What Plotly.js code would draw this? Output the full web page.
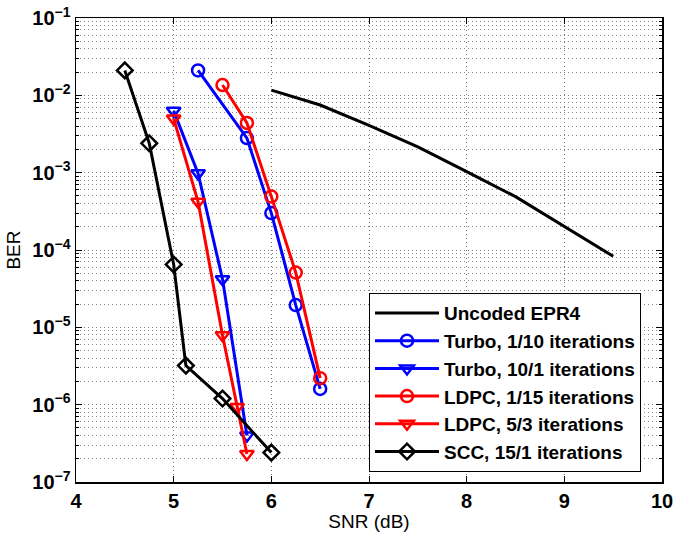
<!DOCTYPE html>
<html>
<head>
<meta charset="utf-8">
<script src="https://cdn.plot.ly/plotly-3.0.1.min.js"></script>
<style>html,body{margin:0;padding:0;background:#fff;}#chart{width:675px;height:537px;}</style>
</head>
<body>
<div id="chart"></div>
<script>
// Data
const uncodedX = [6, 6.5, 7, 7.5, 8, 8.5, 9.5];
const uncodedY = [1.17e-2, 7.5e-3, 4.1e-3, 2.16e-3, 1.03e-3, 4.9e-4, 8.3e-5];

const turbo110X = [5.25, 5.75, 6.0, 6.25, 6.5];
const turbo110Y = [2.1e-2, 2.8e-3, 3.0e-4, 1.94e-5, 1.6e-6];

const turbo101X = [5.0, 5.25, 5.5, 5.75];
const turbo101Y = [6.3e-3, 9.8e-4, 4.2e-5, 4.0e-7];

const ldpc115X = [5.5, 5.75, 6.0, 6.25, 6.5];
const ldpc115Y = [1.36e-2, 4.4e-3, 4.9e-4, 5.1e-5, 2.2e-6];

const ldpc53X = [5.0, 5.25, 5.5, 5.65, 5.75];
const ldpc53Y = [5.0e-3, 4.2e-4, 7.9e-6, 9.3e-7, 2.3e-7];

const sccX = [4.5, 4.75, 5.0, 5.125, 5.5, 6.0];
const sccY = [2.1e-2, 2.4e-3, 6.5e-5, 3.2e-6, 1.2e-6, 2.4e-7];

const seriesNames = [
  "Uncoded EPR4",
  "Turbo, 1/10 iterations",
  "Turbo, 10/1 iterations",
  "LDPC, 1/15 iterations",
  "LDPC, 5/3 iterations",
  "SCC, 15/1 iterations"
];

const xTickVals = [4, 5, 6, 7, 8, 9, 10];
const xTickText = ["4", "5", "6", "7", "8", "9", "10"];
const yTickVals = [1e-7, 1e-6, 1e-5, 1e-4, 1e-3, 1e-2, 1e-1];
const yTickText = ["10<sup>−7</sup>", "10<sup>−6</sup>", "10<sup>−5</sup>", "10<sup>−4</sup>",
                   "10<sup>−3</sup>", "10<sup>−2</sup>", "10<sup>−1</sup>"];

const LW = 3;
function tr(x, y, name, color, symbol, grp) {
  const t = {
    x: x, y: y, name: name, type: 'scatter',
    mode: symbol ? 'lines+markers' : 'lines',
    legendgroup: grp,
    line: {color: color, width: LW},
    cliponaxis: false
  };
  if (symbol) {
    t.marker = {symbol: symbol, size: 12, color: color,
                line: {color: color, width: 2.5}};
  }
  return t;
}

const data = [
  tr(uncodedX, uncodedY, seriesNames[0], '#000000', null, 'g0'),
  tr(turbo110X, turbo110Y, seriesNames[1], '#0000ff', 'circle-open', 'g1'),
  tr(turbo101X, turbo101Y, seriesNames[2], '#0000ff', 'triangle-down-open', 'g2'),
  tr(ldpc115X, ldpc115Y, seriesNames[3], '#ff0000', 'circle-open', 'g3'),
  tr(ldpc53X, ldpc53Y, seriesNames[4], '#ff0000', 'triangle-down-open', 'g4'),
  tr(sccX, sccY, seriesNames[5], '#000000', 'diamond-open', 'g5')
];

const gridDash = '1px,3px';
const layout = {
  width: 675, height: 537,
  margin: {l: 76, r: 13, t: 18, b: 55},
  paper_bgcolor: '#ffffff', plot_bgcolor: '#ffffff',
  font: {family: 'Liberation Sans, Arial, sans-serif', color: '#000'},
  showlegend: true,
  legend: {
    x: 0.5, y: 0.407, xanchor: 'left', yanchor: 'top',
    bgcolor: '#ffffff', bordercolor: '#000', borderwidth: 1,
    font: {size: 19, weight: 'bold', color: '#000'},
    itemwidth: 64, tracegroupgap: 0
  },
  xaxis: {
    range: [4, 10], tickvals: xTickVals, ticktext: xTickText,
    ticks: 'inside', ticklen: 6, tickcolor: '#000',
    showline: true, linecolor: '#000', linewidth: 1.5, mirror: 'ticks',
    showgrid: true, gridcolor: '#777', griddash: gridDash, gridwidth: 1,
    zeroline: false,
    tickfont: {size: 20, weight: 'bold'},
    title: {text: 'SNR (dB)', font: {size: 19}, standoff: 3}
  },
  yaxis: {
    type: 'log', range: [-7, -1], tickvals: yTickVals, ticktext: yTickText,
    ticks: 'inside', ticklen: 6, tickcolor: '#000',
    showline: true, linecolor: '#000', linewidth: 1.5, mirror: 'ticks',
    showgrid: true, gridcolor: '#777', griddash: gridDash, gridwidth: 1,
    zeroline: false,
    tickfont: {size: 20, weight: 'bold'},
    title: {text: 'BER', font: {size: 19}, standoff: 6},
    minor: {dtick: 'D1', ticks: 'inside', ticklen: 3, tickcolor: '#000',
            showgrid: true, gridcolor: '#888', griddash: gridDash, gridwidth: 1}
  }
};

Plotly.newPlot('chart', data, layout, {displayModeBar: false, staticPlot: true});
</script>
</body>
</html>
